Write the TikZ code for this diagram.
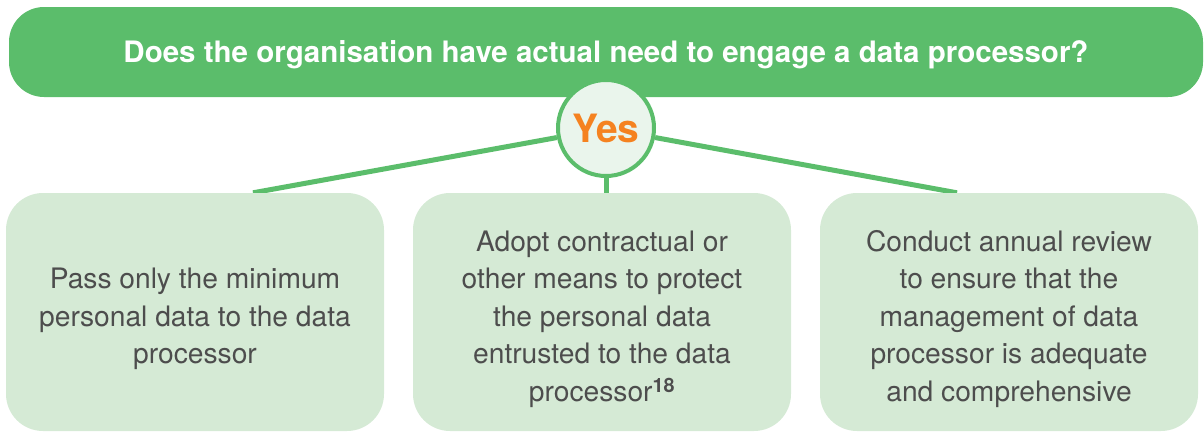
\documentclass[tikz,border=0pt]{standalone}
\usepackage{fontspec}
\setmainfont{TeX Gyre Heros}
\usetikzlibrary{calc,backgrounds}
\definecolor{dkgreen}{HTML}{5BBD6B}
\definecolor{ltgreen}{HTML}{D5EAD5}
\definecolor{circfill}{HTML}{EAF5EC}
\definecolor{yesorange}{HTML}{F58220}
\definecolor{txtgray}{HTML}{4D4D4D}
\begin{document}
\begin{tikzpicture}[x=1pt,y=-1pt,
  question/.style={fill=dkgreen, rounded corners=35pt, minimum width=1194pt, minimum height=90pt,
    text=white, font=\fontsize{29.5}{34}\selectfont\bfseries, inner sep=0pt,
    text height=21pt, text depth=0pt},
  yesnode/.style={circle, draw=dkgreen, line width=4pt, fill=circfill, minimum size=96pt, inner sep=0pt,
    text=yesorange, font=\fontsize{39}{42}\selectfont\bfseries, text height=28pt, text depth=0pt},
  answer/.style={fill=ltgreen, rounded corners=37pt, minimum width=378pt, minimum height=238pt,
    inner sep=0pt},
  answertext/.style={text=txtgray, align=center, font=\fontsize{28.2}{37.5}\selectfont, inner sep=0pt, yshift=-7pt},
  conn/.style={draw=dkgreen, line width=5pt}]
\useasboundingbox (0,0) rectangle (1204,431);
\node[question] (q) at (606,52) {Does the organisation have actual need to engage a data processor?};
\node[yesnode] (yes) at (606,128) {Yes};
\node[answer, label={[answertext]center:Pass only the minimum\\personal data to the data\\processor}] (b1) at (195,312) {};
\node[answer, label={[answertext]center:Adopt contractual or\\other means to protect\\the personal data\\entrusted to the data\\processor\textsuperscript{\bfseries 18}}] (b2) at (602,312) {};
\node[answer, label={[answertext]center:Conduct annual review\\to ensure that the\\management of data\\processor is adequate\\and comprehensive}] (b3) at (1009,312) {};
\begin{scope}[on background layer]
\draw[conn] (yes.191) -- ($(b1.north)+(58,0)$);
\draw[conn] (yes.-11) -- ($(b3.north)+(-52,0)$);
\draw[conn] (yes.south) -- (yes.south |- b2.north);
\end{scope}
\end{tikzpicture}
\end{document}
